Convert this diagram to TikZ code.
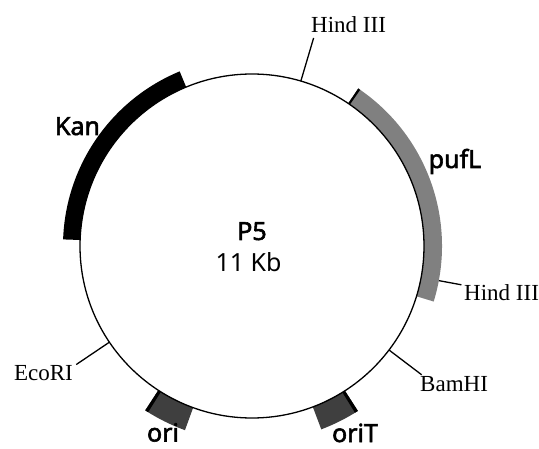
\documentclass[tikz,border=0pt]{standalone}
\usepackage{fontspec}
\newfontfamily\labfont{Noto Sans}
\newfontfamily\labbold{Noto Sans}[FakeBold=2.2]
\newfontfamily\sitefont{Liberation Serif}
\definecolor{pufgray}{HTML}{808080}
\definecolor{origray}{HTML}{3F3F3F}
\begin{document}
\begin{tikzpicture}[x=1pt,y=1pt,
  lab/.style={font=\labbold\fontsize{25}{25}\selectfont, inner sep=0pt, anchor=base},
  centerlab/.style={font=\labfont\fontsize{25}{25}\selectfont, inner sep=0pt, anchor=base},
  site/.style={font=\sitefont\fontsize{23}{23}\selectfont, inner sep=0pt},
  sitetick/.style={draw=black, line width=1.3pt},
  ring/.style={draw=black, line width=1.3pt}]
\useasboundingbox (0,0) rectangle (539,448);
\begin{scope}[shift={(252,202)}]
  \coordinate (c) at (0,0);
  % site ticks
  \coordinate (h1s) at (73.5:172pt);  \coordinate (h1e) at (73.5:217pt);
  \coordinate (h2s) at (-10.5:172pt); \coordinate (h2e) at (-10.5:213pt);
  \coordinate (bs)  at (-37.2:172pt); \coordinate (be)  at (-37.2:213pt);
  \coordinate (es)  at (-146:172pt);  \coordinate (ee)  at (-146:212pt);
  \draw[sitetick] (h1s) -- (h1e);
  \draw[sitetick] (h2s) -- (h2e);
  \draw[sitetick] (bs) -- (be);
  \draw[sitetick] (es) -- (ee);
  % Kan
  \fill[black] (112.5:172pt) arc[start angle=112.5,end angle=178,radius=172pt]
     -- (178:189pt) arc[start angle=178,end angle=112.5,radius=189pt] -- cycle;
  % pufL
  \fill[pufgray] (-17:172pt) arc[start angle=-17,end angle=56,radius=172pt]
     -- (56:190pt) arc[start angle=56,end angle=-17,radius=190pt] -- cycle;
  \fill[black] (55.3:172pt) arc[start angle=55.3,end angle=56,radius=172pt]
     -- (56:190pt) arc[start angle=56,end angle=55.3,radius=190pt] -- cycle;
  % ori
  \fill[origray] (-123:172pt) arc[start angle=-123,end angle=-110,radius=172pt]
     -- (-110:196pt) arc[start angle=-110,end angle=-123,radius=196pt] -- cycle;
  \fill[black] (-123:172pt) arc[start angle=-123,end angle=-122,radius=172pt]
     -- (-122:196pt) arc[start angle=-122,end angle=-123,radius=196pt] -- cycle;
  % oriT
  \fill[origray] (-69.3:172pt) arc[start angle=-69.3,end angle=-57.3,radius=172pt]
     -- (-57.3:196pt) arc[start angle=-57.3,end angle=-69.3,radius=196pt] -- cycle;
  \fill[black] (-58.3:172pt) arc[start angle=-58.3,end angle=-57.3,radius=172pt]
     -- (-57.3:196pt) arc[start angle=-57.3,end angle=-58.3,radius=196pt] -- cycle;
  % plasmid ring
  \draw[ring] (c) circle[radius=172pt];
\end{scope}
% labels
\node[lab] (kan) at (77.5,313) {Kan};
\node[lab] (pufl) at (455,280) {pufL};
\node[lab] (ori) at (163,6.5) {ori};
\node[lab] (orit) at (355,6) {oriT};
\node[lab] (p5) at (252,208) {P5};
\node[centerlab] (size) at (248.5,176) {11 Kb};
\node[site, anchor=base west] (hind1) at (311,415) {Hind III};
\node[site, anchor=base west] (hind2) at (464,147) {Hind III};
\node[site, anchor=base west] (bam) at (420,57) {BamHI};
\node[site, anchor=base east] (eco) at (73,68) {EcoRI};
\end{tikzpicture}
\end{document}
